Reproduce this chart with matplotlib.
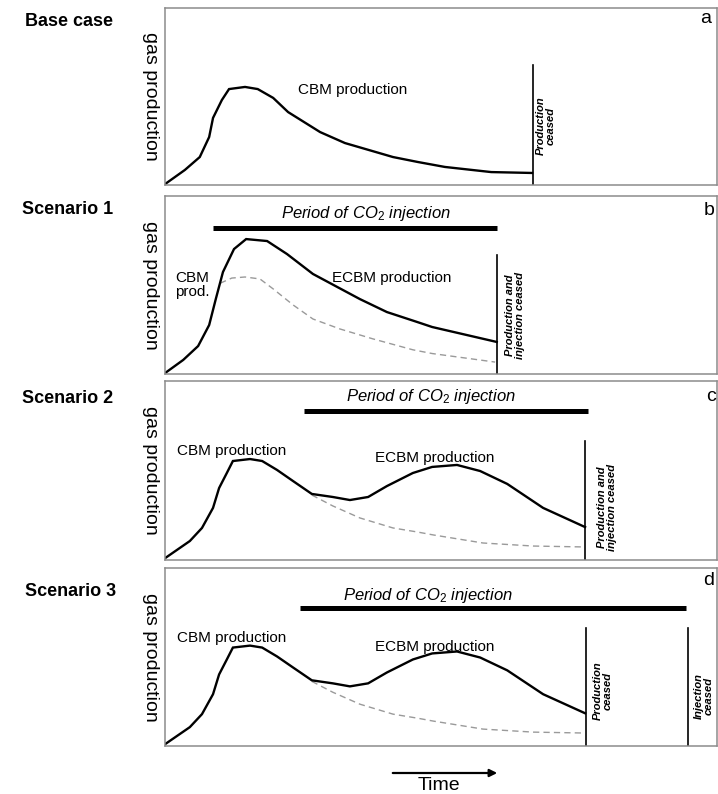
import matplotlib
matplotlib.use("Agg")
import matplotlib.pyplot as plt

plt.rcParams['font.family'] = ['Liberation Sans', 'DejaVu Sans']
plt.rcParams['mathtext.fontset'] = 'custom'
plt.rcParams['mathtext.rm'] = 'Liberation Sans'
plt.rcParams['mathtext.it'] = 'Liberation Sans:italic'
plt.rcParams['mathtext.bf'] = 'Liberation Sans:bold'

# ---------------- data (time 0-100, gas production 0-100, arbitrary units) ----------------
# Base case (CBM only)
time_base = [0, 3.6, 6.3, 8.0, 8.7, 10.3, 11.6, 14.5, 16.8, 19.6, 22.3, 28.1, 32.6, 41.3, 45.8, 50.7, 59.1, 66.5]
prod_base = [0.5, 8.5, 15.8, 27.1, 37.9, 48.0, 54.2, 55.4, 54.2, 49.2, 41.2, 29.9, 23.7, 15.8, 13.0, 10.2, 7.3, 6.8]

# Scenario 1 (early injection)
time_s1 = [0, 3.3, 6.0, 8.0, 9.2, 10.5, 12.5, 14.7, 18.5, 22.1, 26.8, 31.2, 35.3, 40.2, 45.7, 48.4, 60.1]
prod_s1 = [0.5, 7.9, 15.7, 27.5, 42.1, 57.3, 70.2, 75.8, 74.7, 67.4, 56.2, 48.9, 42.1, 34.8, 29.2, 26.4, 18.0]
time_s1_ref = [10.0, 12.1, 14.5, 17.2, 19.6, 23.2, 26.8, 31.7, 37.7, 44.9, 48.4, 59.8]
prod_s1_ref = [51.0, 53.9, 54.5, 53.4, 47.8, 38.8, 30.9, 25.3, 19.7, 13.6, 11.5, 6.7]

# Scenarios 2 and 3 (late injection, second peak)
time_s23 = [0, 4.5, 6.7, 8.7, 9.8, 11.2, 12.3, 15.4, 17.6, 20.3, 23.2, 26.6, 30.4, 33.5, 36.8,
            40.2, 44.9, 48.4, 52.9, 57.1, 62.0, 68.5, 76.1]
prod_s23 = [1.0, 10.6, 17.9, 29.1, 40.2, 48.6, 55.3, 56.4, 55.3, 50.3, 44.1, 36.9, 35.2, 33.5, 35.2,
            41.3, 48.6, 52.0, 53.1, 49.7, 42.5, 29.1, 18.4]
time_s23_ref = [26.6, 30.4, 35.3, 41.3, 45.8, 48.6, 57.6, 66.7, 75.7]
prod_s23_ref = [36.3, 30.2, 23.5, 17.9, 15.6, 14.0, 9.5, 7.8, 7.3]

# injection periods (start, end) and bar heights
inj_start = [8.7, 25.2, 24.5]
inj_end = [60.1, 76.6, 94.4]
inj_level = [82.0, 83.2, 77.5]

# events
prod_end = [66.7, 60.1, 76.1, 76.3]
inj_ceased_d = 94.7

scenario_names = ['Base case', 'Scenario 1', 'Scenario 2', 'Scenario 3']
panel_letters = ['a', 'b', 'c', 'd']

# ---------------- layout ----------------
W, H = 718, 794
fig = plt.figure(figsize=(W / 100, H / 100), dpi=100)

panel_px = [(8, 185), (196, 374), (381, 560), (568, 746)]  # top, bottom in pixels
left_px, right_px = 165, 717
axes = []
for top, bot in panel_px:
    ax = fig.add_axes([left_px / W, 1 - bot / H, (right_px - left_px) / W, (bot - top) / H])
    ax.set_xlim(0, 100)
    ax.set_ylim(0, 100)
    ax.set_xticks([])
    ax.set_yticks([])
    for s in ax.spines.values():
        s.set_color('#8c8c8c')
        s.set_linewidth(1.1)
    ax.text(-0.026, 0.5, 'gas production', transform=ax.transAxes, rotation=270,
            ha='center', va='center', fontsize=14)
    axes.append(ax)

label_y_px = [21, 209, 398, 592]
label_x_px = [25, 22, 22, 25]
for name, xp, yp in zip(scenario_names, label_x_px, label_y_px):
    fig.text(xp / W, 1 - yp / H, name, fontsize=13, fontweight='bold', ha='left', va='center')

letter_pos = [(98.0, 94.0), (98.6, 92.0), (98.9, 91.6), (98.4, 93.0)]
for ax, let, (lx, ly) in zip(axes, panel_letters, letter_pos):
    ax.text(lx, ly, let, fontsize=14, ha='center', va='center')

solid_kw = dict(color='black', lw=1.7, solid_joinstyle='miter')
dash_kw = dict(color='#9a9a9a', lw=1.0, linestyle=(0, (4.5, 3)))
vline_kw = dict(color='black', lw=1.2)
small_kw = dict(fontsize=8, fontweight='bold', style='italic', rotation=90,
                ha='center', va='center', linespacing=1.05)
inj_label = r'Period of CO$_\mathit{2}$ injection'

# Panel a
ax = axes[0]
ax.plot(time_base, prod_base, **solid_kw)
ax.plot([prod_end[0], prod_end[0]], [0, 67.8], **vline_kw)
ax.text(33.9, 53.7, 'CBM production', fontsize=11, ha='center', va='center')
ax.text(69.0, 33.5, 'Production\nceased', **small_kw)

# Panel b
ax = axes[1]
ax.plot(time_s1_ref, prod_s1_ref, **dash_kw)
ax.plot(time_s1, prod_s1, **solid_kw)
ax.plot([inj_start[0], inj_end[0]], [inj_level[0]] * 2, color='black', lw=3.6, solid_capstyle='butt')
ax.text(36.4, 90.4, inj_label, fontsize=12, style='italic', ha='center', va='center')
ax.plot([prod_end[1], prod_end[1]], [0, 66.9], **vline_kw)
ax.text(1.8, 50, 'CBM\nprod.', fontsize=11, ha='left', va='center', linespacing=0.95)
ax.text(41.1, 53.9, 'ECBM production', fontsize=11, ha='center', va='center')
ax.text(63.4, 33.0, 'Production and\ninjection ceased', **small_kw)

# Panel c
ax = axes[2]
ax.plot(time_s23_ref, prod_s23_ref, **dash_kw)
ax.plot(time_s23, prod_s23, **solid_kw)
ax.plot([inj_start[1], inj_end[1]], [inj_level[1]] * 2, color='black', lw=3.6, solid_capstyle='butt')
ax.text(48.2, 91.6, inj_label, fontsize=12, style='italic', ha='center', va='center')
ax.plot([prod_end[2], prod_end[2]], [0, 66.5], **vline_kw)
ax.text(12.0, 60.9, 'CBM production', fontsize=11, ha='center', va='center')
ax.text(48.9, 57.0, 'ECBM production', fontsize=11, ha='center', va='center')
ax.text(80.1, 29.6, 'Production and\ninjection ceased', **small_kw)

# Panel d
ax = axes[3]
ax.plot(time_s23_ref, prod_s23_ref, **dash_kw)
ax.plot(time_s23, prod_s23, **solid_kw)
ax.plot([inj_start[2], inj_end[2]], [inj_level[2]] * 2, color='black', lw=3.6, solid_capstyle='butt')
ax.text(47.6, 84.8, inj_label, fontsize=12, style='italic', ha='center', va='center')
ax.plot([prod_end[3], prod_end[3]], [0, 66.3], **vline_kw)
ax.plot([inj_ceased_d, inj_ceased_d], [0, 66.3], **vline_kw)
ax.text(12.0, 60.7, 'CBM production', fontsize=11, ha='center', va='center')
ax.text(48.9, 55.6, 'ECBM production', fontsize=11, ha='center', va='center')
ax.text(79.3, 31.0, 'Production\nceased', **small_kw)
ax.text(97.6, 28.0, 'Injection\nceased', **small_kw)

# Time arrow
fig.add_artist(matplotlib.patches.FancyArrowPatch(
    (390 / W, 1 - 773 / H), (500 / W, 1 - 773 / H), transform=fig.transFigure,
    arrowstyle='-|>', mutation_scale=11, lw=1.6, color='black'))
fig.text(439 / W, 1 - 786 / H, 'Time', fontsize=14, ha='center', va='center')

fig.savefig('out.png', dpi=100)
